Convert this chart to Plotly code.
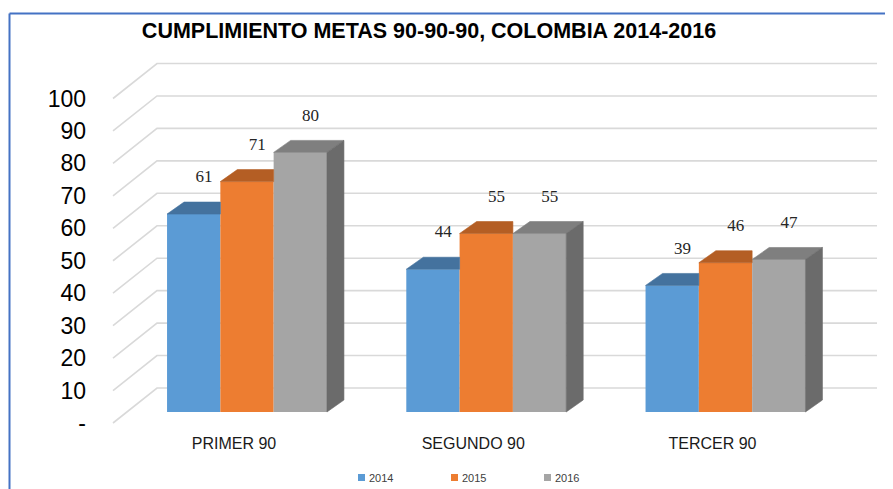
import plotly.graph_objects as go

# ---------------- data ----------------
CATEGORIES = ["PRIMER 90", "SEGUNDO 90", "TERCER 90"]
SERIES = ["2014", "2015", "2016"]
VALUES_2014 = [61, 44, 39]
VALUES_2015 = [71, 55, 46]
VALUES_2016 = [80, 55, 47]
Y_TICKS = [0, 10, 20, 30, 40, 50, 60, 70, 80, 90, 100]
Y_TICK_TEXT = ["-", "10", "20", "30", "40", "50", "60", "70", "80", "90", "100"]
TITLE = "CUMPLIMIENTO METAS 90-90-90, COLOMBIA 2014-2016"

# ---------------- styling / geometry ----------------
OX, OY = 8, 8          # page body margin compensation
W, H = 893 - OX, 489 - OY
FRONT = ["#5B9BD5", "#ED7D31", "#A5A5A5"]
TOP = ["#44729E", "#B45E24", "#7F7F7F"]
SIDE = ["#3A6690", "#A05420", "#6B6B6B"]
SANS = "Liberation Sans, Arial, sans-serif"
SERIF = "Liberation Serif, Times New Roman, serif"


def pxx(p):
    return (p - OX) / W


def pxy(p):
    return 1 - (p - OY) / H


PX_X = 239.25          # pixels per category step
PX_Y = 3.245           # pixels per value unit
X_ZERO_PX = 247 - OX   # pixel of first category centre
Y_ZERO_PX = 412 - OY   # pixel of bar base

xr0 = -X_ZERO_PX / PX_X
xr1 = xr0 + W / PX_X
yr0 = -(H - Y_ZERO_PX) / PX_Y
yr1 = yr0 + H / PX_Y

BAR_W = 53.3 / PX_X
BARGAP = 1 - len(SERIES) * BAR_W
DX = 17 / PX_X                  # 3-D depth offset (x)
DY = 12 / PX_Y                  # 3-D depth offset (y)
FRONT_SHIFT = (412 - 423) / PX_Y   # floor front edge
BACK_SHIFT = (412 - 388) / PX_Y    # back wall
WALL_FRONT_X = pxx(113)
WALL_BACK_X = pxx(157)
WALL_RIGHT_X = pxx(877)
LABEL_DY = 36 / PX_Y

values = [VALUES_2014, VALUES_2015, VALUES_2016]
xs = list(range(len(CATEGORIES)))
n = len(SERIES)

fig = go.Figure()

# front faces
for s, name in enumerate(SERIES):
    fig.add_trace(go.Bar(
        x=xs, y=values[s], name=name,
        marker=dict(color=FRONT[s], line=dict(width=0)),
        showlegend=False, hoverinfo="skip",
    ))


# top / side faces
def poly(px, py, color):
    fig.add_trace(go.Scatter(
        x=px, y=py, mode="lines", fill="toself", fillcolor=color,
        line=dict(color=color, width=0.6), showlegend=False, hoverinfo="skip",
    ))


for c in xs:
    for s in range(n):
        v = values[s][c]
        x0 = c + (s - (n - 1) / 2) * BAR_W - BAR_W / 2
        x1 = x0 + BAR_W
        nxt = values[s + 1][c] if s + 1 < n else None
        if nxt is not None and nxt >= v:
            poly([x0, x1, x1, x0 + DX, x0], [v, v, v + DY, v + DY, v], TOP[s])
        else:
            poly([x0, x1, x1 + DX, x0 + DX, x0], [v, v, v + DY, v + DY, v], TOP[s])
            base = 0 if nxt is None else nxt
            poly([x1, x1, x1 + DX, x1 + DX, x1],
                 [base, v, v + DY, base + DY, base], SIDE[s])

# data labels
lx, ly, lt = [], [], []
for s in range(n):
    for c in xs:
        v = values[s][c]
        xc = c + (s - (n - 1) / 2) * BAR_W
        lx.append(xc + DX * 0.6)
        ly.append(v + LABEL_DY)
        lt.append(str(v))
fig.add_trace(go.Scatter(
    x=lx, y=ly, text=lt, mode="text", textposition="middle center",
    textfont=dict(family=SERIF, size=17, color="#262626"),
    showlegend=False, hoverinfo="skip",
))

# wall gridlines
shapes = []
for v in Y_TICKS:
    yf = v + FRONT_SHIFT
    yb = v + BACK_SHIFT
    shapes.append(dict(
        type="path", xref="paper", yref="y",
        path=f"M{WALL_FRONT_X},{yf} L{WALL_BACK_X},{yb} L{WALL_RIGHT_X},{yb}",
        line=dict(color="#D9D9D9", width=1.6), layer="below",
    ))

# frame (top and left edges visible)
shapes.append(dict(
    type="line", xref="paper", yref="paper",
    x0=pxx(9.5), x1=1.05, y0=pxy(13.5), y1=pxy(13.5),
    line=dict(color="#4472C4", width=2), layer="above",
))
shapes.append(dict(
    type="line", xref="paper", yref="paper",
    x0=pxx(9.5), x1=pxx(9.5), y0=-0.05, y1=pxy(13.5),
    line=dict(color="#4472C4", width=2), layer="above",
))

# manual legend
annotations = []
for s, name in enumerate(SERIES):
    sx = 358 + 93 * s
    shapes.append(dict(
        type="rect", xref="paper", yref="paper",
        x0=pxx(sx), x1=pxx(sx + 7), y0=pxy(481), y1=pxy(474),
        fillcolor=FRONT[s], line=dict(width=0),
    ))
    annotations.append(dict(
        text=name, xref="paper", yref="paper",
        x=pxx(sx + 9), y=pxy(478), xanchor="left", yanchor="middle",
        showarrow=False, font=dict(family=SANS, size=11, color="#404040"),
    ))

fig.update_layout(
    width=W, height=H, autosize=False,
    margin=dict(l=0, r=0, t=0, b=0),
    paper_bgcolor="white", plot_bgcolor="rgba(0,0,0,0)",
    barmode="group", bargap=BARGAP, bargroupgap=0,
    showlegend=False,
    title=dict(text=TITLE, x=pxx(429), y=pxy(30), xanchor="center",
               yanchor="middle", xref="paper", yref="paper",
               font=dict(family=SANS, size=21.5, color="#000000", weight="bold")),
    xaxis=dict(type="linear", range=[xr0, xr1], tickvals=xs, ticktext=CATEGORIES,
               anchor="free", position=pxy(432), showline=False, showgrid=False,
               zeroline=False, ticks="", ticklabelshift=-13,
               tickfont=dict(family=SANS, size=16, color="#1a1a1a"),
               automargin=False, fixedrange=True),
    yaxis=dict(range=[yr0, yr1], showgrid=False, zeroline=False, showline=False,
               showticklabels=False, ticks="", automargin=False, fixedrange=True),
    yaxis2=dict(range=[yr0 - FRONT_SHIFT, yr1 - FRONT_SHIFT], overlaying="y",
                anchor="free", position=pxx(86), side="left",
                tickvals=Y_TICKS, ticktext=Y_TICK_TEXT, showgrid=False,
                zeroline=False, showline=False, ticks="",
                tickfont=dict(family=SANS, size=23, color="#000000"),
                automargin=False, fixedrange=True),
    shapes=shapes, annotations=annotations,
)

# invisible trace to activate yaxis2
fig.add_trace(go.Scatter(x=[None], y=[None], yaxis="y2", showlegend=False, hoverinfo="skip"))

fig.write_html("out.html")
